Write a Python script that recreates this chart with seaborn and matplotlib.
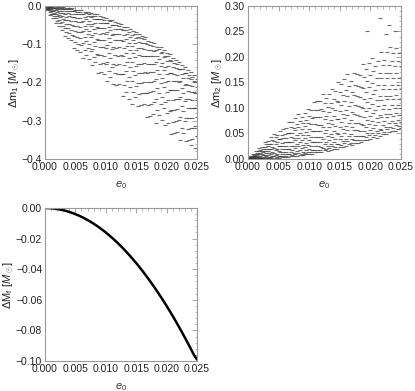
import numpy as np
import pandas as pd
import matplotlib
matplotlib.use("Agg")
import matplotlib.pyplot as plt
import seaborn as sns
from matplotlib.ticker import MultipleLocator, FuncFormatter

# e0 columns shared by the two scatter panels (main column and the half step before it)
e0_grid = [0.0005, 0.0010, 0.0015, 0.0020, 0.0025, 0.0030, 0.0035, 0.0040, 0.0045, 0.0050,
           0.0055, 0.0060, 0.0065, 0.0070, 0.0075, 0.0080, 0.0085, 0.0090, 0.0095, 0.0100,
           0.0105, 0.0110, 0.0115, 0.0120, 0.0125, 0.0130, 0.0135, 0.0140, 0.0145, 0.0150,
           0.0155, 0.0160, 0.0165, 0.0170, 0.0175, 0.0180, 0.0185, 0.0190, 0.0195, 0.0200,
           0.0205, 0.0210, 0.0215, 0.0220, 0.0225, 0.0230, 0.0235, 0.0240, 0.0245, 0.0250]
e0_half = [0.00025, 0.00075, 0.00125, 0.00175, 0.00225, 0.00275, 0.00325, 0.00375, 0.00425, 0.00475,
           0.00525, 0.00575, 0.00625, 0.00675, 0.00725, 0.00775, 0.00825, 0.00875, 0.00925, 0.00975,
           0.01025, 0.01075, 0.01125, 0.01175, 0.01225, 0.01275, 0.01325, 0.01375, 0.01425, 0.01475,
           0.01525, 0.01575, 0.01625, 0.01675, 0.01725, 0.01775, 0.01825, 0.01875, 0.01925, 0.01975,
           0.02025, 0.02075, 0.02125, 0.02175, 0.02225, 0.02275, 0.02325, 0.02375, 0.02425, 0.02475]

dm1_cols = [
    [-0.0001, -0.0004, -0.0010, -0.0019, -0.0030, -0.0042, -0.0056, -0.0072, -0.0088, -0.0107],
    [-0.0005, -0.0016, -0.0031, -0.0052, -0.0076, -0.0103, -0.0134, -0.0167, -0.0204, -0.0243],
    [-0.0008, -0.0020, -0.0040, -0.0065, -0.0097, -0.0133, -0.0174, -0.0219, -0.0267, -0.0319],
    [-0.0019, -0.0040, -0.0070, -0.0107, -0.0151, -0.0201, -0.0256, -0.0317, -0.0382, -0.0452],
    [-0.0024, -0.0046, -0.0079, -0.0122, -0.0173, -0.0231, -0.0296, -0.0367, -0.0445, -0.0527],
    [-0.0027, -0.0044, -0.0080, -0.0129, -0.0188, -0.0257, -0.0335, -0.0422, -0.0515, -0.0617],
    [-0.0050, -0.0086, -0.0137, -0.0202, -0.0277, -0.0364, -0.0459, -0.0564, -0.0676, -0.0797],
    [-0.0051, -0.0079, -0.0130, -0.0194, -0.0273, -0.0363, -0.0465, -0.0578, -0.0698, -0.0829],
    [-0.0061, -0.0085, -0.0135, -0.0204, -0.0287, -0.0383, -0.0493, -0.0615, -0.0746, -0.0888],
    [-0.0092, -0.0141, -0.0210, -0.0297, -0.0399, -0.0516, -0.0644, -0.0785, -0.0937, -0.1100],
    [-0.0101, -0.0147, -0.0216, -0.0306, -0.0413, -0.0535, -0.0672, -0.0820, -0.0982, -0.1155],
    [-0.0112, -0.0152, -0.0222, -0.0313, -0.0423, -0.0549, -0.0692, -0.0849, -0.1018, -0.1202],
    [-0.0148, -0.0205, -0.0288, -0.0392, -0.0513, -0.0652, -0.0804, -0.0972, -0.1153, -0.1347],
    [-0.0147, -0.0181, -0.0250, -0.0345, -0.0459, -0.0593, -0.0745, -0.0913, -0.1095, -0.1291],
    [-0.0173, -0.0218, -0.0297, -0.0398, -0.0521, -0.0662, -0.0822, -0.0998, -0.1186, -0.1391],
    [-0.0205, -0.0263, -0.0351, -0.0466, -0.0601, -0.0756, -0.0929, -0.1118, -0.1324, -0.1544],
    [-0.0217, -0.0254, -0.0330, -0.0434, -0.0560, -0.0707, -0.0875, -0.1059, -0.1259, -0.1475],
    [-0.0269, -0.0340, -0.0442, -0.0571, -0.0720, -0.0892, -0.1081, -0.1289, -0.1513, -0.1753],
    [-0.0285, -0.0348, -0.0444, -0.0568, -0.0715, -0.0883, -0.1071, -0.1276, -0.1500, -0.1738],
    [-0.0305, -0.0359, -0.0454, -0.0575, -0.0724, -0.0894, -0.1086, -0.1297, -0.1524, -0.1770],
    [-0.0358, -0.0434, -0.0544, -0.0682, -0.0842, -0.1027, -0.1229, -0.1453, -0.1692, -0.1950],
    [-0.0360, -0.0404, -0.0494, -0.0617, -0.0766, -0.0940, -0.1137, -0.1355, -0.1592, -0.1847],
    [-0.0415, -0.0485, -0.0592, -0.0730, -0.0893, -0.1080, -0.1289, -0.1517, -0.1765, -0.2030],
    [-0.0435, -0.0495, -0.0600, -0.0734, -0.0899, -0.1087, -0.1299, -0.1533, -0.1784, -0.2057],
    [-0.0470, -0.0516, -0.0611, -0.0741, -0.0897, -0.1081, -0.1289, -0.1518, -0.1768, -0.2036],
    [-0.0541, -0.0628, -0.0753, -0.0909, -0.1091, -0.1301, -0.1531, -0.1785, -0.2057, -0.2350],
    [-0.0556, -0.0618, -0.0728, -0.0868, -0.1040, -0.1236, -0.1458, -0.1703, -0.1965, -0.2250],
    [-0.0607, -0.0686, -0.0806, -0.0961, -0.1144, -0.1354, -0.1589, -0.1845, -0.2124, -0.2422],
    [-0.0663, -0.0753, -0.0883, -0.1047, -0.1237, -0.1456, -0.1696, -0.1961, -0.2245, -0.2550],
    [-0.0680, -0.0730, -0.0832, -0.0972, -0.1141, -0.1339, -0.1563, -0.1811, -0.2080, -0.2370],
    [-0.0738, -0.0819, -0.0944, -0.1104, -0.1294, -0.1512, -0.1756, -0.2021, -0.2310, -0.2619],
    [-0.0776, -0.0843, -0.0960, -0.1111, -0.1295, -0.1505, -0.1742, -0.2004, -0.2285, -0.2590],
    [-0.0820, -0.0871, -0.0976, -0.1121, -0.1295, -0.1499, -0.1731, -0.1986, -0.2263, -0.2562],
    [-0.0905, -0.1000, -0.1138, -0.1311, -0.1511, -0.1743, -0.1997, -0.2277, -0.2577, -0.2900],
    [-0.0938, -0.1022, -0.1149, -0.1314, -0.1509, -0.1732, -0.1982, -0.2254, -0.2550, -0.2867],
    [-0.0976, -0.1045, -0.1165, -0.1319, -0.1508, -0.1723, -0.1967, -0.2235, -0.2523, -0.2836],
    [-0.1064, -0.1159, -0.1297, -0.1468, -0.1668, -0.1899, -0.2151, -0.2430, -0.2729, -0.3050],
    [-0.1080, -0.1133, -0.1240, -0.1387, -0.1565, -0.1773, -0.2009, -0.2270, -0.2553, -0.2858],
    [-0.1146, -0.1214, -0.1333, -0.1486, -0.1673, -0.1886, -0.2127, -0.2392, -0.2678, -0.2987],
    [-0.1218, -0.1300, -0.1426, -0.1588, -0.1780, -0.2000, -0.2246, -0.2514, -0.2806, -0.3118],
    [-0.1260, -0.1313, -0.1421, -0.1570, -0.1750, -0.1960, -0.2198, -0.2462, -0.2747, -0.3055],
    [-0.1355, -0.1450, -0.1588, -0.1761, -0.1961, -0.2193, -0.2447, -0.2727, -0.3027, -0.3350],
    [-0.1408, -0.1491, -0.1617, -0.1780, -0.1973, -0.2194, -0.2441, -0.2711, -0.3004, -0.3318],
    [-0.1456, -0.1524, -0.1642, -0.1794, -0.1980, -0.2192, -0.2432, -0.2696, -0.2980, -0.3288],
    [-0.1554, -0.1647, -0.1781, -0.1950, -0.2146, -0.2371, -0.2619, -0.2892, -0.3185, -0.3500],
    [-0.1590, -0.1641, -0.1745, -0.1888, -0.2060, -0.2262, -0.2492, -0.2744, -0.3019, -0.3315],
    [-0.1677, -0.1757, -0.1879, -0.2036, -0.2223, -0.2436, -0.2675, -0.2935, -0.3218, -0.3520],
    [-0.1736, -0.1801, -0.1914, -0.2060, -0.2239, -0.2442, -0.2673, -0.2926, -0.3199, -0.3494, -0.3640],
    [-0.1800, -0.1849, -0.1950, -0.2089, -0.2256, -0.2452, -0.2674, -0.2919, -0.3185, -0.3472],
    [-0.1911, -0.1996, -0.2120, -0.2275, -0.2455, -0.2663, -0.2890, -0.3141, -0.3411, -0.3700],
]

dm2_cols = [
    [0.0001, 0.0003, 0.0007, 0.0011, 0.0016, 0.0022, 0.0028, 0.0035, 0.0042, 0.0050],
    [0.0001, 0.0004, 0.0010, 0.0018, 0.0027, 0.0039, 0.0052, 0.0066, 0.0081, 0.0098],
    [0.0002, 0.0008, 0.0017, 0.0030, 0.0044, 0.0061, 0.0081, 0.0102, 0.0124, 0.0149],
    [0.0006, 0.0015, 0.0029, 0.0047, 0.0068, 0.0092, 0.0119, 0.0149, 0.0181, 0.0215],
    [0.0006, 0.0013, 0.0027, 0.0047, 0.0071, 0.0099, 0.0130, 0.0165, 0.0203, 0.0244],
    [0.0015, 0.0030, 0.0053, 0.0081, 0.0113, 0.0151, 0.0192, 0.0238, 0.0287, 0.0339],
    [0.0013, 0.0026, 0.0048, 0.0077, 0.0113, 0.0153, 0.0199, 0.0249, 0.0303, 0.0361],
    [0.0019, 0.0037, 0.0064, 0.0099, 0.0141, 0.0189, 0.0243, 0.0301, 0.0364, 0.0432],
    [0.0027, 0.0050, 0.0082, 0.0123, 0.0171, 0.0225, 0.0285, 0.0352, 0.0423, 0.0499],
    [0.0024, 0.0037, 0.0065, 0.0102, 0.0148, 0.0201, 0.0261, 0.0328, 0.0400, 0.0478],
    [0.0034, 0.0057, 0.0091, 0.0136, 0.0189, 0.0249, 0.0317, 0.0390, 0.0471, 0.0556],
    [0.0037, 0.0057, 0.0092, 0.0137, 0.0193, 0.0256, 0.0327, 0.0406, 0.0490, 0.0582],
    [0.0041, 0.0058, 0.0092, 0.0138, 0.0195, 0.0261, 0.0335, 0.0418, 0.0508, 0.0604],
    [0.0059, 0.0091, 0.0137, 0.0195, 0.0262, 0.0339, 0.0424, 0.0518, 0.0619, 0.0727],
    [0.0056, 0.0081, 0.0124, 0.0180, 0.0247, 0.0325, 0.0412, 0.0509, 0.0612, 0.0725],
    [0.0068, 0.0100, 0.0148, 0.0210, 0.0284, 0.0369, 0.0464, 0.0567, 0.0679, 0.0799],
    [0.0083, 0.0121, 0.0176, 0.0245, 0.0325, 0.0417, 0.0519, 0.0630, 0.0750, 0.0879],
    [0.0078, 0.0100, 0.0145, 0.0207, 0.0282, 0.0370, 0.0469, 0.0579, 0.0698, 0.0826],
    [0.0090, 0.0120, 0.0172, 0.0240, 0.0323, 0.0417, 0.0524, 0.0641, 0.0768, 0.0905],
    [0.0104, 0.0143, 0.0201, 0.0276, 0.0366, 0.0468, 0.0582, 0.0707, 0.0843, 0.0988],
    [0.0106, 0.0131, 0.0183, 0.0253, 0.0339, 0.0439, 0.0552, 0.0677, 0.0813, 0.0960],
    [0.0133, 0.0181, 0.0249, 0.0335, 0.0435, 0.0550, 0.0677, 0.0816, 0.0965, 0.1126],
    [0.0136, 0.0180, 0.0246, 0.0331, 0.0432, 0.0547, 0.0676, 0.0817, 0.0970, 0.1134],
    [0.0141, 0.0178, 0.0243, 0.0325, 0.0427, 0.0542, 0.0673, 0.0817, 0.0972, 0.1140],
    [0.0169, 0.0222, 0.0299, 0.0395, 0.0507, 0.0636, 0.0777, 0.0933, 0.1100, 0.1280],
    [0.0162, 0.0192, 0.0254, 0.0340, 0.0443, 0.0563, 0.0700, 0.0851, 0.1015, 0.1192],
    [0.0179, 0.0219, 0.0290, 0.0381, 0.0493, 0.0620, 0.0764, 0.0923, 0.1093, 0.1278],
    [0.0199, 0.0250, 0.0328, 0.0429, 0.0548, 0.0684, 0.0837, 0.1003, 0.1184, 0.1377],
    [0.0202, 0.0235, 0.0303, 0.0397, 0.0509, 0.0641, 0.0791, 0.0956, 0.1135, 0.1328],
    [0.0238, 0.0299, 0.0388, 0.0498, 0.0627, 0.0775, 0.0938, 0.1117, 0.1309, 0.1516],
    [0.0234, 0.0280, 0.0359, 0.0460, 0.0585, 0.0727, 0.0888, 0.1065, 0.1255, 0.1461],
    [0.0258, 0.0315, 0.0401, 0.0512, 0.0643, 0.0794, 0.0963, 0.1146, 0.1346, 0.1560],
    [0.0284, 0.0350, 0.0445, 0.0564, 0.0702, 0.0862, 0.1037, 0.1230, 0.1437, 0.1660],
    [0.0277, 0.0314, 0.0389, 0.0493, 0.0618, 0.0764, 0.0930, 0.1113, 0.1312, 0.1527],
    [0.0307, 0.0367, 0.0458, 0.0575, 0.0715, 0.0874, 0.1052, 0.1247, 0.1458, 0.1685],
    [0.0314, 0.0364, 0.0451, 0.0563, 0.0700, 0.0855, 0.1032, 0.1226, 0.1435, 0.1661],
    [0.0330, 0.0369, 0.0448, 0.0556, 0.0688, 0.0841, 0.1015, 0.1208, 0.1416, 0.1641],
    [0.0373, 0.0444, 0.0546, 0.0675, 0.0824, 0.0996, 0.1185, 0.1393, 0.1617, 0.1857],
    [0.0370, 0.0422, 0.0512, 0.0628, 0.0770, 0.0933, 0.1116, 0.1318, 0.1535, 0.1771, 0.2502],
    [0.0398, 0.0462, 0.0560, 0.0687, 0.0836, 0.1008, 0.1200, 0.1409, 0.1637, 0.1880],
    [0.0427, 0.0501, 0.0609, 0.0743, 0.0899, 0.1079, 0.1277, 0.1495, 0.1729, 0.1980],
    [0.0420, 0.0462, 0.0546, 0.0663, 0.0804, 0.0969, 0.1156, 0.1362, 0.1586, 0.1828],
    [0.0445, 0.0500, 0.0596, 0.0719, 0.0869, 0.1041, 0.1235, 0.1449, 0.1679, 0.1929, 0.2764],
    [0.0488, 0.0565, 0.0676, 0.0816, 0.0978, 0.1165, 0.1370, 0.1597, 0.1839, 0.2100],
    [0.0490, 0.0533, 0.0620, 0.0739, 0.0884, 0.1053, 0.1244, 0.1456, 0.1686, 0.1933, 0.2448],
    [0.0525, 0.0593, 0.0696, 0.0830, 0.0989, 0.1170, 0.1373, 0.1594, 0.1835, 0.2092, 0.2622],
    [0.0558, 0.0636, 0.0749, 0.0890, 0.1055, 0.1244, 0.1451, 0.1680, 0.1926, 0.2190],
    [0.0555, 0.0612, 0.0710, 0.0837, 0.0993, 0.1170, 0.1370, 0.1590, 0.1828, 0.2085, 0.2508],
    [0.0595, 0.0664, 0.0769, 0.0904, 0.1064, 0.1248, 0.1453, 0.1677, 0.1921, 0.2182],
    [0.0600, 0.0644, 0.0733, 0.0855, 0.1003, 0.1176, 0.1373, 0.1590, 0.1825, 0.2078],
]

# Delta M_f along the thin curve
mf_e0 = [0.0, 0.0005, 0.0010, 0.0015, 0.0020, 0.0025, 0.0030, 0.0035, 0.0040, 0.0045,
         0.0050, 0.0055, 0.0060, 0.0065, 0.0070, 0.0075, 0.0080, 0.0085, 0.0090, 0.0095,
         0.0100, 0.0105, 0.0110, 0.0115, 0.0120, 0.0125, 0.0130, 0.0135, 0.0140, 0.0145,
         0.0150, 0.0155, 0.0160, 0.0165, 0.0170, 0.0175, 0.0180, 0.0185, 0.0190, 0.0195,
         0.0200, 0.0205, 0.0210, 0.0215, 0.0220, 0.0225, 0.0230, 0.0235, 0.0240, 0.0245, 0.0250]
dMf = [0.0, -0.00004, -0.00016, -0.00036, -0.00064, -0.0010, -0.00144, -0.00196, -0.00256, -0.00324,
       -0.0040, -0.00484, -0.00576, -0.00676, -0.00784, -0.0090, -0.01024, -0.01156, -0.01296, -0.01444,
       -0.0160, -0.01764, -0.01936, -0.02116, -0.02304, -0.0250, -0.02704, -0.02916, -0.03136, -0.03364,
       -0.0360, -0.03844, -0.04096, -0.04356, -0.04624, -0.0490, -0.05184, -0.05476, -0.05776, -0.06084,
       -0.0640, -0.06724, -0.07056, -0.07396, -0.07744, -0.0810, -0.08464, -0.08836, -0.09216, -0.09604, -0.0990]


def expand(cols):
    # even-ranked readings sit on the main column, odd-ranked ones on the half step
    xs, ys = [], []
    for e, eh, col in zip(e0_grid, e0_half, cols):
        for i, v in enumerate(col):
            xs.append(e if i % 2 == 0 else eh)
            ys.append(v)
    return pd.DataFrame({"e0": xs, "d": ys})


df1 = expand(dm1_cols)
df2 = expand(dm2_cols)
df3 = pd.DataFrame({"e0": mf_e0, "d": dMf})

sns.set_style("white")
plt.rcParams["font.family"] = ["Liberation Sans", "DejaVu Sans"]
plt.rcParams["mathtext.fontset"] = "custom"
plt.rcParams["mathtext.rm"] = "Liberation Sans"
plt.rcParams["mathtext.it"] = "Liberation Sans:italic"


def fmt(decimals):
    def f(v, pos):
        s = f"{v:.{decimals}f}"
        if float(s) == 0:
            s = f"{0:.{decimals}f}"
        return s.replace("-", "\u2212")
    return FuncFormatter(f)


def style(ax, ylim, ymaj, ymin, ydec, ylabel):
    ax.set_xlim(0, 0.025)
    ax.set_ylim(*ylim)
    ax.xaxis.set_major_locator(MultipleLocator(0.005))
    ax.xaxis.set_minor_locator(MultipleLocator(0.001))
    ax.yaxis.set_major_locator(MultipleLocator(ymaj))
    ax.yaxis.set_minor_locator(MultipleLocator(ymin))
    ax.xaxis.set_major_formatter(fmt(3))
    ax.yaxis.set_major_formatter(fmt(ydec))
    ax.tick_params(which="both", direction="in", top=True, right=True,
                   color="#999999", labelcolor="#222222", labelsize=7.5, pad=2)
    ax.tick_params(which="major", length=3.5, width=0.6)
    ax.tick_params(which="minor", length=1.8, width=0.5)
    for sp in ax.spines.values():
        sp.set_color("#999999")
        sp.set_linewidth(0.8)
    ax.set_xlabel(r"$e_0$", fontsize=8, color="#333333", labelpad=5)
    ax.set_ylabel(ylabel, fontsize=8, color="#222222", labelpad=0)


fig = plt.figure(figsize=(4.15, 3.91), dpi=100)
ax1 = fig.add_axes([0.1084, 0.5934, 0.3663, 0.3913])
ax2 = fig.add_axes([0.5976, 0.5934, 0.3687, 0.3913])
ax3 = fig.add_axes([0.1084, 0.0767, 0.3663, 0.3913])

pt = dict(marker="_", s=5, linewidth=0.8, color="#303030", alpha=0.7, legend=False)
sns.scatterplot(data=df1, x="e0", y="d", ax=ax1, **pt)
sns.scatterplot(data=df2, x="e0", y="d", ax=ax2, **pt)
sns.lineplot(data=df3, x="e0", y="d", ax=ax3, color="black", linewidth=1.8)

style(ax1, (-0.4, 0.0), 0.1, 0.02, 1, r"$\Delta\mathrm{m}_1\ [M_\odot]$")
style(ax2, (0.0, 0.3), 0.05, 0.01, 2, r"$\Delta\mathrm{m}_2\ [M_\odot]$")
style(ax3, (-0.1, 0.0), 0.02, 0.004, 2, r"$\Delta\mathrm{M}_\mathrm{f}\ [M_\odot]$")

fig.savefig("out.png", dpi=100)
